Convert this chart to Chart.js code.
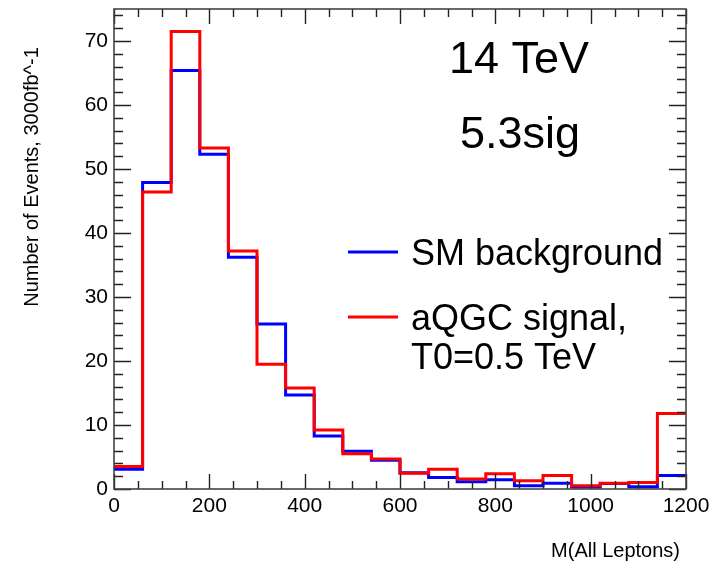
<!DOCTYPE html>
<html>
<head>
<meta charset="utf-8">
<script src="https://cdn.jsdelivr.net/npm/chart.js@4"></script>
<style>
  body { margin: 0; background: #fff; }
  canvas { display: block; }
</style>
</head>
<body>
<canvas id="histo" width="709" height="563"></canvas>
<script>
// bin edges (GeV), last entry closes the final bin
const binEdges = [0, 60, 120, 180, 240, 300, 360, 420, 480, 540, 600, 660, 720, 780, 840, 900, 960, 1020, 1080, 1140, 1200];
// events per bin, 3000 fb^-1
const smBackground = [3.1, 47.9, 65.4, 52.3, 36.2, 25.8, 14.7, 8.3, 5.9, 4.5, 2.55, 1.8, 1.15, 1.45, 0.5, 0.9, 0.3, 0.85, 0.35, 2.1];
const aqgcSignal   = [3.5, 46.4, 71.5, 53.3, 37.2, 19.5, 15.8, 9.2, 5.5, 4.7, 2.45, 3.1, 1.55, 2.4, 1.3, 2.1, 0.5, 0.9, 1.0, 11.8];
const xMajor = [0, 200, 400, 600, 800, 1000, 1200];
const yMajor = [0, 10, 20, 30, 40, 50, 60, 70];
const xMinorStep = 50;
const yMinorStep = 2;

const FONT = '"Liberation Sans", Arial, Helvetica, sans-serif';

// histogram outline: one point per left edge, stepped so the level holds across the bin
const toSteps = vals => binEdges.map((x, i) => ({ x: x, y: vals[Math.min(i, vals.length - 1)] }));

// ROOT-like frame, inward ticks on all four sides, legend and labels
const rootFrame = {
  id: "rootFrame",
  afterDatasetsDraw(chart) {
    const { ctx, chartArea: a, scales: { x, y } } = chart;
    ctx.save();

    // ticks
    ctx.strokeStyle = "#222";
    ctx.lineWidth = 1.4;
    ctx.beginPath();
    for (let v = x.min; v <= x.max; v += xMinorStep) {
      const px = Math.round(x.getPixelForValue(v)) + 0.5;
      const len = xMajor.includes(v) ? 15 : 8;
      ctx.moveTo(px, a.bottom); ctx.lineTo(px, a.bottom - len);
      ctx.moveTo(px, a.top); ctx.lineTo(px, a.top + len);
    }
    for (let v = y.min; v <= y.max; v += yMinorStep) {
      const py = Math.round(y.getPixelForValue(v)) + 0.5;
      const len = yMajor.includes(v) ? 17 : 9;
      ctx.moveTo(a.left, py); ctx.lineTo(a.left + len, py);
      ctx.moveTo(a.right, py); ctx.lineTo(a.right - len, py);
    }
    ctx.stroke();

    // frame
    ctx.strokeStyle = "#444";
    ctx.lineWidth = 1.6;
    ctx.strokeRect(a.left, a.top, a.right - a.left, a.bottom - a.top);

    ctx.fillStyle = "#000";

    // energy + significance
    ctx.textAlign = "center";
    ctx.textBaseline = "alphabetic";
    ctx.font = "45px " + FONT;
    ctx.fillText("14 TeV", 519, 73);
    ctx.fillText("5.3sig", 520, 148);

    // legend
    const items = [
      { ds: chart.data.datasets[0], ly: 252, lines: ["SM background"], base: 265 },
      { ds: chart.data.datasets[1], ly: 317, lines: ["aQGC signal,", "T0=0.5 TeV"], base: 330 }
    ];
    ctx.textAlign = "left";
    ctx.font = "36px " + FONT;
    items.forEach(it => {
      ctx.strokeStyle = it.ds.borderColor;
      ctx.lineWidth = 3;
      ctx.beginPath();
      ctx.moveTo(348, it.ly); ctx.lineTo(398, it.ly);
      ctx.stroke();
      it.lines.forEach((t, k) => ctx.fillText(t, 411, it.base + k * 39));
    });

    // axis titles
    ctx.font = "20px " + FONT;
    ctx.textAlign = "right";
    ctx.fillText("M(All Leptons)", 680, 557);
    ctx.save();
    ctx.translate(38, 177);
    ctx.rotate(-Math.PI / 2);
    ctx.textAlign = "center";
    ctx.fillText("Number of Events, 3000fb^-1", 0, 0);
    ctx.restore();

    ctx.restore();
  }
};

new Chart(document.getElementById("histo"), {
  type: "line",
  data: {
    datasets: [
      { label: "SM background", data: toSteps(smBackground), borderColor: "#0000ff", borderWidth: 3,
        stepped: "before", pointRadius: 0, fill: false, order: 1 },
      { label: "aQGC signal, T0=0.5 TeV", data: toSteps(aqgcSignal), borderColor: "#ff0000", borderWidth: 3,
        stepped: "before", pointRadius: 0, fill: false, order: 0 }
    ]
  },
  options: {
    responsive: false,
    animation: false,
    devicePixelRatio: 1,
    layout: { padding: { left: 0, top: 9, right: 23, bottom: 0 } },
    plugins: { legend: { display: false }, tooltip: { enabled: false } },
    scales: {
      x: {
        type: "linear", min: 0, max: 1200,
        grid: { display: false, drawTicks: false }, border: { display: false },
        ticks: { color: "#000", font: { size: 21, family: FONT }, padding: 5, maxRotation: 0, autoSkip: false,
                 callback: v => String(v) },
        afterBuildTicks: s => { s.ticks = xMajor.map(v => ({ value: v })); },
        afterFit: s => { s.height = 74; s.paddingLeft = 0; s.paddingRight = 0; }
      },
      y: {
        type: "linear", min: 0, max: 75,
        grid: { display: false, drawTicks: false }, border: { display: false },
        ticks: { color: "#000", font: { size: 21, family: FONT }, padding: 6, autoSkip: false,
                 callback: v => String(v) },
        afterBuildTicks: s => { s.ticks = yMajor.map(v => ({ value: v })); },
        afterFit: s => { s.width = 114; s.paddingTop = 0; s.paddingBottom = 0; }
      }
    }
  },
  plugins: [rootFrame]
});
</script>
</body>
</html>
